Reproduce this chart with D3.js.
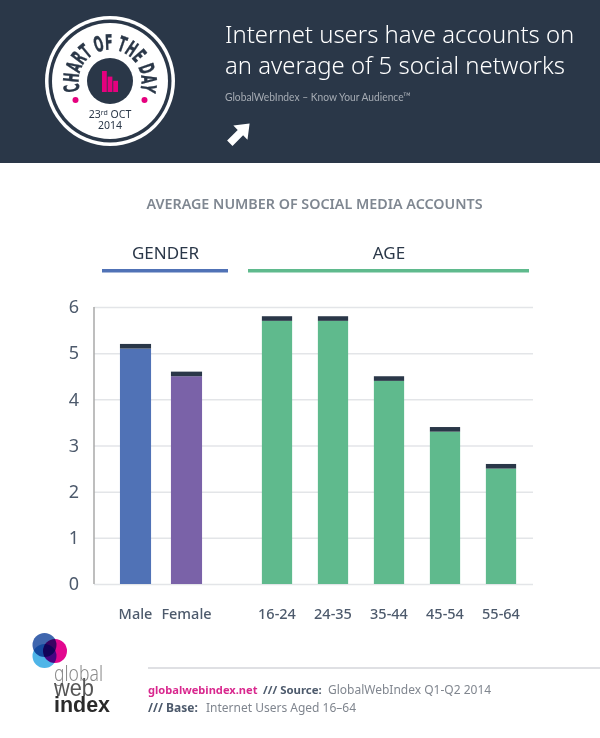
<!DOCTYPE html>
<html>
<head>
<meta charset="utf-8">
<script src="https://cdnjs.cloudflare.com/ajax/libs/d3/7.8.5/d3.min.js"></script>
<style>
  html, body { margin: 0; padding: 0; background: #fff; }
  svg { display: block; }
</style>
</head>
<body>
<div id="chart"></div>
<script>
const genderLabels = ["Male", "Female"];
const genderValues = [5.2, 4.6];
const genderColors = ["#5072b6", "#7a62a8"];
const ageLabels = ["16-24", "24-35", "35-44", "45-54", "55-64"];
const ageValues = [5.8, 5.8, 4.5, 3.4, 2.6];
const yTicks = [0, 1, 2, 3, 4, 5, 6];
const capSize = 0.1; // dark strip at the top of each bar, in chart units
const badgeBars = [3, 2.2, 1.6];

const dark = "#2a3748", green = "#5fba8d", blue = "#5072b6", pink = "#e5007e", slate = "#4d5a6c";
const baseFont = "'Noto Sans', sans-serif";

const svg = d3.select("#chart").append("svg").attr("width", 600).attr("height", 738)
  .attr("font-family", baseFont);

// header
svg.append("rect").attr("width", 600).attr("height", 163).attr("fill", dark);

const badge = svg.append("g").attr("transform", "translate(110,81)");
badge.append("circle").attr("r", 65).attr("fill", "#fff");
badge.append("circle").attr("r", 61.5).attr("fill", dark);
badge.append("circle").attr("r", 58).attr("fill", "#fff");
badge.append("circle").attr("r", 23).attr("fill", dark);
svg.append("defs").append("path").attr("id", "badgeArc").attr("d", "M-30.5,8 A31.5,31.5 0 1 1 30.5,8");
badge.append("text").attr("font-size", 21).attr("font-weight", 700).attr("fill", dark)
  .attr("stroke", dark).attr("stroke-width", 0.5)
  .attr("font-family", "'DejaVu Sans', sans-serif")
  .append("textPath").attr("href", "#badgeArc").attr("startOffset", "50%").attr("text-anchor", "middle")
  .attr("textLength", 118).attr("lengthAdjust", "spacingAndGlyphs")
  .text("CHART OF THE DAY");
badge.selectAll("circle.dot").data([-1, 1]).join("circle").attr("class", "dot")
  .attr("cx", d => d * 34.5).attr("cy", 19).attr("r", 3).attr("fill", pink);
const badgeX = d3.scaleBand().domain(d3.range(badgeBars.length)).range([-8, 8]).paddingInner(0.15);
const badgeY = d3.scaleLinear().domain([0, 3]).range([11, -10]);
badge.selectAll("rect.mini").data(badgeBars).join("rect").attr("class", "mini")
  .attr("x", (d, i) => badgeX(i)).attr("width", badgeX.bandwidth())
  .attr("y", d => badgeY(d)).attr("height", d => badgeY(0) - badgeY(d)).attr("fill", pink);
const date = badge.append("text").attr("text-anchor", "middle").attr("y", 37).attr("font-size", 10.5).attr("fill", dark);
date.append("tspan").text("23");
date.append("tspan").attr("font-size", 7).attr("dy", -3).text("rd");
date.append("tspan").attr("dy", 3).text(" OCT");
badge.append("text").attr("text-anchor", "middle").attr("y", 48).attr("font-size", 10.5).attr("fill", dark).text("2014");

svg.append("text").attr("x", 225).attr("y", 43).attr("font-size", 23.9).attr("font-weight", 300).attr("fill", "#fff").text("Internet users have accounts on");
svg.append("text").attr("x", 225).attr("y", 74).attr("font-size", 23.9).attr("font-weight", 300).attr("fill", "#fff").text("an average of 5 social networks");
svg.append("text").attr("x", 225).attr("y", 101).attr("font-size", 12).attr("font-family", "Lato, sans-serif").attr("fill", "#a5abb3")
  .attr("textLength", 186).attr("lengthAdjust", "spacingAndGlyphs").text("GlobalWebIndex – Know Your Audience™");
svg.append("path").attr("transform", "translate(239,134) rotate(45)")
  .attr("d", "M0,-15 L10,-2 L3.8,-2 L3.8,13 L-3.8,13 L-3.8,-2 L-10,-2 Z").attr("fill", "#fff");

// chart title
svg.append("text").attr("x", 314.5).attr("y", 209).attr("text-anchor", "middle").attr("font-size", 14.3)
  .attr("font-weight", 600).attr("fill", "#7f8791").text("AVERAGE NUMBER OF SOCIAL MEDIA ACCOUNTS");

// group headings
const groups = [["GENDER", 102, 228, blue], ["AGE", 248, 529, green]];
groups.forEach(([name, x0, x1, col]) => {
  svg.append("text").attr("x", (x0 + x1) / 2 + 0.5).attr("y", 259).attr("text-anchor", "middle")
    .attr("font-size", 17).attr("fill", dark).text(name);
  svg.append("rect").attr("x", x0).attr("y", 269).attr("width", x1 - x0).attr("height", 3.5).attr("fill", col);
});

// scales
const y = d3.scaleLinear().domain([0, 6]).range([584, 307]);
const xGender = d3.scaleBand().domain(genderLabels).range([110, 212]).paddingInner(0.39).paddingOuter(0.195);
const xAge = d3.scaleBand().domain(ageLabels).range([249, 529]).paddingInner(0.46).paddingOuter(0.23);

// gridlines and y axis
const yAxis = svg.append("g").attr("transform", "translate(94,0)")
  .call(d3.axisLeft(y).tickValues(yTicks).tickSize(-439).tickPadding(15).tickFormat(d3.format("d")));
yAxis.select(".domain").remove();
yAxis.selectAll(".tick line").attr("stroke", "#e3e5e8").attr("stroke-width", 1.5);
yAxis.selectAll(".tick text").attr("font-size", 18).attr("fill", slate).attr("font-family", baseFont);
svg.append("line").attr("x1", 94).attr("x2", 94).attr("y1", y(6)).attr("y2", y(0))
  .attr("stroke", "#a9a9a9").attr("stroke-width", 1.5);

function drawBars(labels, values, x, colorOf) {
  const g = svg.append("g");
  g.selectAll("rect.body").data(values).join("rect").attr("class", "body")
    .attr("x", (d, i) => x(labels[i])).attr("width", x.bandwidth())
    .attr("y", d => y(d - capSize)).attr("height", d => y(0) - y(d - capSize))
    .attr("fill", (d, i) => colorOf(i));
  g.selectAll("rect.cap").data(values).join("rect").attr("class", "cap")
    .attr("x", (d, i) => x(labels[i])).attr("width", x.bandwidth())
    .attr("y", d => y(d)).attr("height", d => y(d - capSize) - y(d))
    .attr("fill", dark);
  const axis = svg.append("g").attr("transform", "translate(0,584)").call(d3.axisBottom(x).tickSize(0).tickPadding(25));
  axis.select(".domain").remove();
  axis.selectAll(".tick text").attr("font-size", 14.5).attr("font-weight", 500).attr("fill", slate)
    .attr("font-family", baseFont);
}
drawBars(genderLabels, genderValues, xGender, i => genderColors[i]);
drawBars(ageLabels, ageValues, xAge, () => green);

// logo
const logo = svg.append("g").style("isolation", "isolate");
[[44.5, 645, 12, "#3f66ae"], [55, 651, 12, "#e2078f"], [44.5, 656, 12, "#4fb5e8"]].forEach(([cx, cy, r, c]) => {
  logo.append("circle").attr("cx", cx).attr("cy", cy).attr("r", r).attr("fill", c).style("mix-blend-mode", "multiply");
});
const logoFont = "'Liberation Sans', sans-serif";
svg.append("text").attr("x", 54).attr("y", 681).attr("font-size", 22).attr("font-weight", 300).attr("fill", "#8a8a8a")
  .attr("textLength", 49).attr("lengthAdjust", "spacingAndGlyphs").text("global");
svg.append("text").attr("x", 54).attr("y", 696).attr("font-size", 23).attr("font-family", logoFont).attr("fill", "#555")
  .attr("textLength", 40).attr("lengthAdjust", "spacingAndGlyphs").text("web");
svg.append("text").attr("x", 54).attr("y", 711.5).attr("font-size", 22).attr("font-weight", 700).attr("font-family", logoFont).attr("fill", "#2b2b2b")
  .attr("textLength", 56).attr("lengthAdjust", "spacingAndGlyphs").text("index");

// footer
svg.append("line").attr("x1", 148).attr("x2", 600).attr("y1", 668).attr("y2", 668).attr("stroke", "#bfc1c8").attr("stroke-width", 1);
const foot1 = svg.append("text").attr("y", 694).attr("font-size", 12).attr("fill", "#80868f");
foot1.append("tspan").attr("x", 148).attr("font-weight", 700).attr("font-size", 11.1).attr("fill", "#d9288e").text("globalwebindex.net");
foot1.append("tspan").attr("x", 263).attr("font-weight", 700).attr("font-size", 11.4).attr("fill", slate).text("/// Source:");
foot1.append("tspan").attr("x", 328).text("GlobalWebIndex Q1-Q2 2014");
const foot2 = svg.append("text").attr("y", 712).attr("font-size", 12).attr("fill", "#80868f");
foot2.append("tspan").attr("x", 148).attr("font-weight", 700).attr("fill", slate).text("/// Base:");
foot2.append("tspan").attr("x", 206).text("Internet Users Aged 16–64");
</script>
</body>
</html>
